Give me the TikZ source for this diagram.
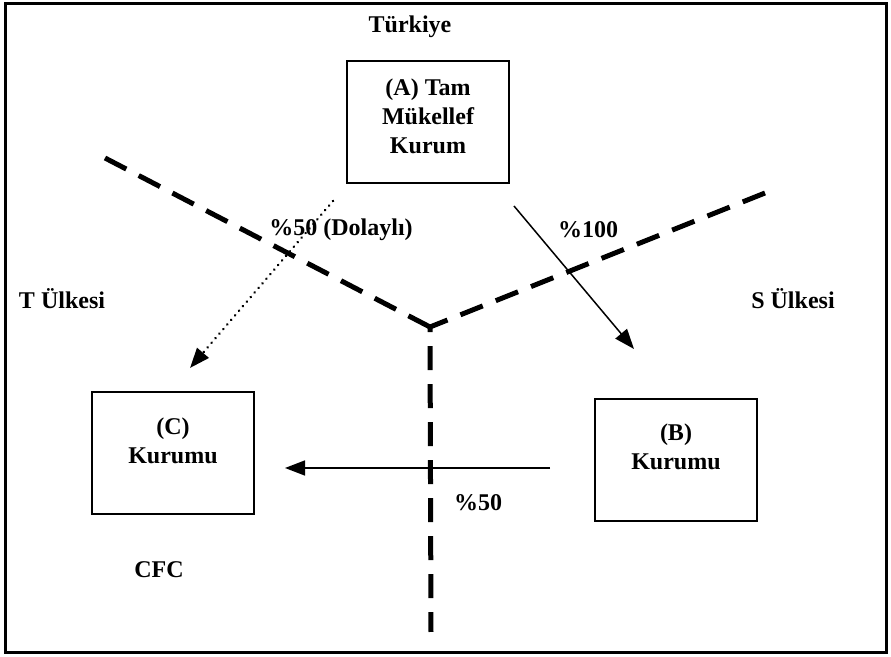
\documentclass[tikz,border=0pt]{standalone}
\usepackage{fontspec}
\setmainfont{Liberation Serif}
\usetikzlibrary{arrows.meta}
\begin{document}
\begin{tikzpicture}[x = 0.5pt, y = -0.5pt, >={Triangle[length=10pt, width=7.5pt]},
    font = \fontsize{12}{14.5}\selectfont\bfseries,
    box/.style = {draw, line width = 0.7pt, minimum width = 81pt, minimum height = 61pt, inner sep = 0pt},
    txt/.style = {align = center, inner sep = 0pt},
    border/.style = {line width = 2.5pt, dash pattern = on 12pt off 7pt}]
        \useasboundingbox (0, 0) rectangle (891, 657);
        \draw [line width = 1.5pt] (5, 4) rectangle (886, 653);
        % borders between countries
        \coordinate (nw) at (105, 158);
        \coordinate (ne) at (765, 193);
        \coordinate (mid) at (430, 327);
        \coordinate (bot) at (431, 632);
        \draw [border] (nw) -- (mid);
        \draw [border] (ne) -- (mid) -- (bot);

        \node [txt] (tr) at (410, 27) {Türkiye};
        \node [txt] (tul) at (62, 299) {T Ülkesi};
        \node [txt] (sul) at (793, 299) {S Ülkesi};
        \node [txt] (cfc) at (159, 570) {CFC};

        \node [box] (boxA) at (428, 122) {};
        \node [txt] (txtA) at (428, 116) {(A) Tam\\Mükellef\\Kurum};
        \node [box] (boxB) at (676, 460) {};
        \node [txt] (txtB) at (676, 447) {(B)\\Kurumu};
        \node [box] (boxC) at (173, 453) {};
        \node [txt] (txtC) at (173, 441) {(C)\\Kurumu};

        % shares
        \coordinate (a1) at (514, 206);
        \coordinate (b1) at (634, 349);
        \draw [->, line width = 0.75pt] (a1) -- (b1);
        \node [txt] (p100) at (588, 230) {\%100};

        \coordinate (a2) at (333, 201);
        \coordinate (c2) at (190, 368);
        \draw [->, line width = 1.4pt, dash pattern = on 0.01pt off 3pt, line cap = round] (a2) -- (c2);
        \node [txt] (p50d) at (341, 230) {\%50 (Dolaylı)};

        \coordinate (b3) at (550, 468);
        \coordinate (c3) at (285, 468);
        \draw [->, line width = 0.75pt] (b3) -- (c3);
        \node [txt] (p50) at (478, 503) {\%50};
\end{tikzpicture}
\end{document}
